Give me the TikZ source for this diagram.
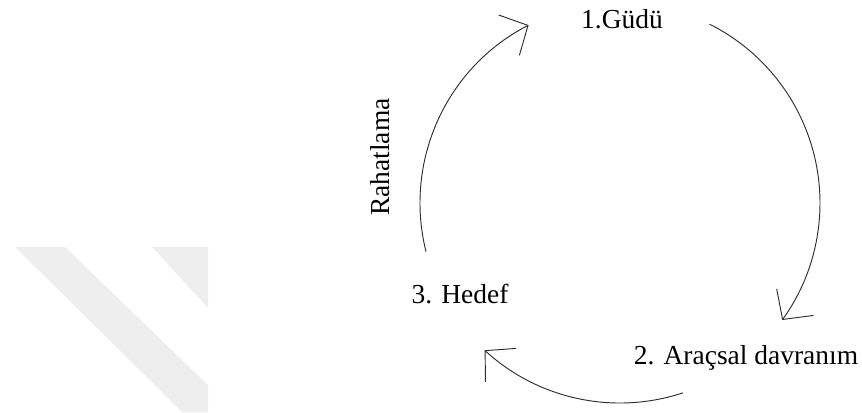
\documentclass[tikz,border=0pt]{standalone}
\usepackage{fontspec}
\setmainfont{Liberation Serif}
\usepackage{xcolor}
\usetikzlibrary{arrows.meta,calc}
\definecolor{wmgray}{RGB}{238,238,238}
\definecolor{arcgray}{RGB}{45,45,45}

\begin{document}
\begin{tikzpicture}[x=0.75pt,y=0.75pt,font=\fontsize{20.6}{24}\selectfont,
  cyc/.style={draw=arcgray,line width=0.7pt,-{Straight Barb[length=16pt,width=34pt]}}]
  \useasboundingbox (0,0) rectangle (862,412);
  % watermark stripes
  \fill[wmgray] (15,165) -- (65,165) -- (208,27) -- (208,0) -- (182,0) -- cycle;
  \fill[wmgray] (152,165) -- (208,165) -- (208,104) -- cycle;
  % cycle
  \coordinate (c) at (620,209);
  \node[anchor=base] (gudu) at (622,384) {1.Güdü};
  \node[anchor=base] (arac) at (746,48) {2. Araçsal davranım};
  \node[anchor=base] (hedef) at (460,109) {3. Hedef};
  \node[anchor=base,rotate=90] (rahat) at (389,255) {Rahatlama};
  \foreach \a/\b/\n in {63.4/-35.8/1,-71.7/-132.6/2,194.1/117.2/3}{
    \coordinate (s\n) at ($(c)+(\a:200)$);
    \draw[cyc] (s\n) arc[start angle=\a,end angle=\b,radius=200];
  }
\end{tikzpicture}
\end{document}
